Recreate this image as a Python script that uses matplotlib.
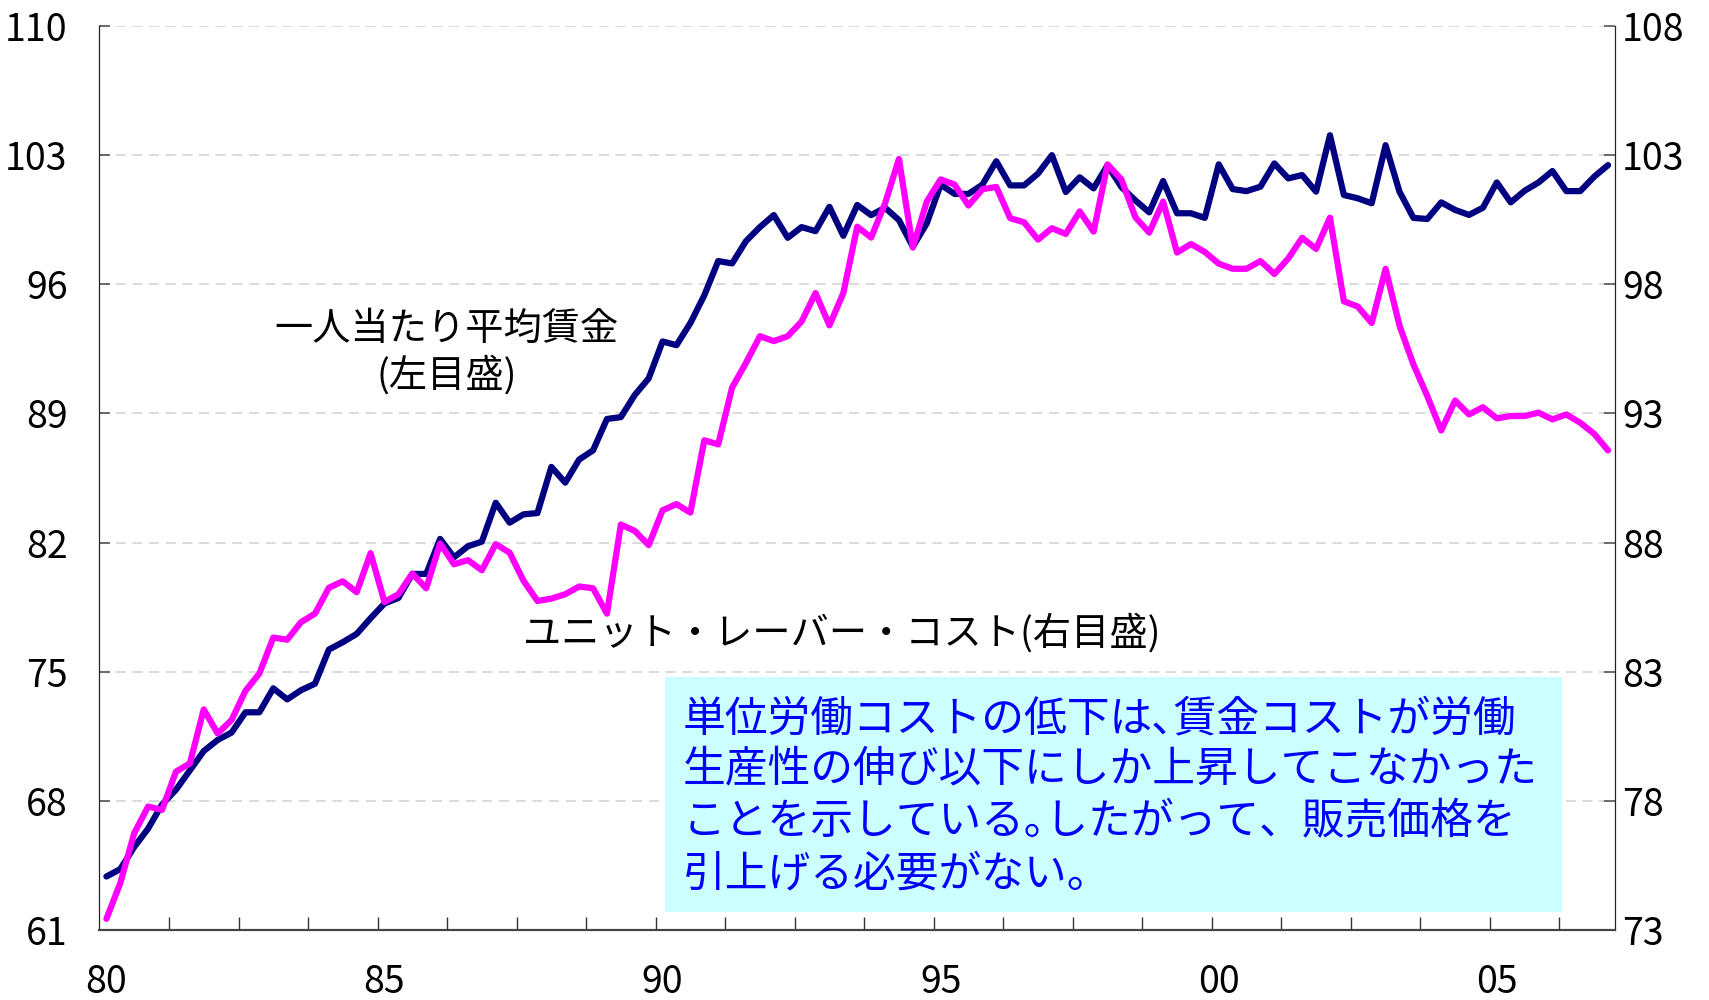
import numpy as np
import matplotlib.pyplot as plt
from matplotlib.patches import Rectangle

plt.rcParams['font.family'] = ['Noto Sans CJK JP', 'DejaVu Sans']

# quarterly series, 1980Q1 - 2007Q1
wage = [63.9, 64.3, 65.5, 66.5, 67.8, 68.6, 69.65, 70.7, 71.3, 71.7,
        72.8, 72.8, 74.1, 73.5, 74.0, 74.35, 76.2, 76.6, 77.05, 77.9,
        78.7, 79.0, 80.3, 80.3, 82.2, 81.2, 81.8, 82.05, 84.16, 83.08,
        83.53, 83.6, 86.1, 85.25, 86.5, 87.0, 88.7, 88.8, 90.0, 90.9,
        92.9, 92.7, 93.9, 95.4, 97.26, 97.13, 98.34, 99.1, 99.75, 98.52,
        99.1, 98.88, 100.2, 98.63, 100.3, 99.75, 100.15, 99.48, 98.04, 99.3,
        101.4, 100.9, 100.9, 101.4, 102.67, 101.36, 101.36, 102.0, 103.0, 101.0,
        101.8, 101.2, 102.45, 101.27, 100.55, 99.9, 101.6, 99.85, 99.85, 99.6,
        102.5, 101.16, 101.05, 101.29, 102.55, 101.74, 101.92, 101.02, 104.08, 100.84,
        100.66, 100.39, 103.54, 101.02, 99.6, 99.54, 100.44, 100.03, 99.76, 100.15,
        101.52, 100.44, 101.07, 101.52, 102.14, 101.05, 101.05, 101.83, 102.46]

ulc = [73.43, 74.82, 76.75, 77.78, 77.65, 79.13, 79.45, 81.54, 80.61, 81.13,
       82.26, 82.93, 84.32, 84.24, 84.92, 85.25, 86.25, 86.5, 86.08, 87.59,
       85.7, 86.0, 86.8, 86.23, 87.96, 87.16, 87.32, 86.93, 87.94, 87.61,
       86.52, 85.74, 85.83, 86.0, 86.3, 86.23, 85.25, 88.7, 88.45, 87.9,
       89.25, 89.49, 89.16, 91.96, 91.8, 94.0, 94.96, 95.99, 95.8, 95.99,
       96.56, 97.66, 96.41, 97.66, 100.23, 99.81, 101.13, 102.85, 99.42, 101.2,
       102.06, 101.86, 101.05, 101.68, 101.77, 100.56, 100.4, 99.73, 100.17, 99.95,
       100.82, 100.04, 102.64, 102.06, 100.6, 100.0, 101.2, 99.23, 99.56, 99.25,
       98.8, 98.6, 98.6, 98.9, 98.4, 99.0, 99.8, 99.37, 100.58, 97.34,
       97.14, 96.5, 98.6, 96.4, 94.9, 93.67, 92.34, 93.5, 92.96, 93.24,
       92.81, 92.9, 92.9, 93.03, 92.77, 92.96, 92.64, 92.21, 91.57]

year_labels = ['80', '85', '90', '95', '00', '05']
left_ticks = [61, 68, 75, 82, 89, 96, 103, 110]
right_ticks = [73, 78, 83, 88, 93, 98, 103, 108]

note_lines = ['単位労働コストの低下は､賃金コストが労働',
              '生産性の伸び以下にしか上昇してこなかった',
              'ことを示している｡したがって、販売価格を',
              '引上げる必要がない。']

x = np.arange(len(wage))

fig = plt.figure(figsize=(17.09, 10), dpi=100)
ax = fig.add_axes([0.0582, 0.07, 0.8868, 0.904])
ax2 = ax.twinx()

ax.plot(x, wage, color='#000080', lw=4.5, solid_capstyle='round')
ax2.plot(x, ulc, color='#FF00FF', lw=4.5, solid_capstyle='round')

ax.set_xlim(-0.5, len(wage) - 0.5)
ax.set_ylim(61, 110)
ax2.set_ylim(73, 108)
ax.set_yticks(left_ticks)
ax2.set_yticks(right_ticks)

ax.set_xticks(x[::20])
ax.set_xticklabels(year_labels)
ax.set_xticks(np.arange(4.5, len(wage) - 1, 5), minor=True)
ax.tick_params(axis='x', which='major', length=0, pad=24, labelsize=27)
ax.tick_params(axis='x', which='minor', direction='in', length=9.5, width=1, color='#333333')
ax.tick_params(axis='y', direction='in', length=8, width=1.2, pad=23, labelsize=27, color='#555555')
ax2.tick_params(axis='y', direction='in', length=8, width=1.2, pad=5, labelsize=27, color='#555555')

ax.grid(axis='y', linestyle=(0, (6, 4)), color='#d4d4d4', lw=1.2)

for a in (ax, ax2):
    a.spines['top'].set_visible(False)
    a.spines['left'].set_color('#222222')
    a.spines['right'].set_color('#222222')
    a.spines['bottom'].set_color('#444444')
    a.spines['bottom'].set_linewidth(1.5)

# series labels
ax2.text(0.2293, 0.6648, '一人当たり平均賃金', transform=ax2.transAxes,
         ha='center', va='center', fontsize=27.5)
ax2.text(0.2293, 0.6128, '(左目盛)', transform=ax2.transAxes,
         ha='center', va='center', fontsize=27.5)
ax2.text(0.4899, 0.3274, 'ユニット・レーバー・コスト(右目盛)', transform=ax2.transAxes,
         ha='center', va='center', fontsize=27.5)

# comment box
ax2.add_patch(Rectangle((0.373, 0.0199), 0.592, 0.2601, transform=ax2.transAxes,
                        facecolor='#CCFFFF', edgecolor='none', zorder=0.5))
for k, line in enumerate(note_lines):
    ax2.text(0.385, 0.2334 - k * 0.0572, line, transform=ax2.transAxes,
             ha='left', va='center', fontsize=30.8, color='#0000FF')

fig.savefig('out.png', dpi=100)
